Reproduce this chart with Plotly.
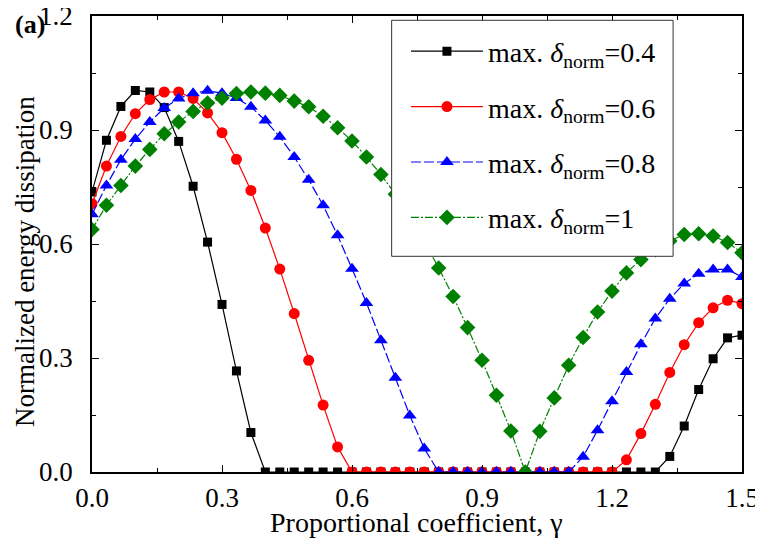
import plotly.graph_objects as go

gamma = [i / 30 for i in range(46)]

d04 = [0.737, 0.873, 0.962, 1.004, 1.000, 0.959, 0.870, 0.752, 0.605, 0.441,
       0.266, 0.104, 0, 0, 0, 0, 0, 0, 0, 0,
       0, 0, 0, 0, 0, 0, 0, 0, 0, 0,
       0, 0, 0, 0, 0, 0, 0, 0, 0, 0,
       0.041, 0.121, 0.217, 0.298, 0.353, 0.360]
d06 = [0.706, 0.805, 0.883, 0.943, 0.980, 1.000, 1.000, 0.983, 0.945, 0.893,
       0.823, 0.741, 0.642, 0.534, 0.417, 0.294, 0.176, 0.066, 0, 0,
       0, 0, 0, 0, 0, 0, 0, 0, 0, 0,
       0, 0, 0, 0, 0, 0, 0, 0.032, 0.101, 0.178,
       0.262, 0.335, 0.393, 0.432, 0.452, 0.443]
d08 = [0.678, 0.754, 0.822, 0.876, 0.921, 0.958, 0.983, 0.997, 1.003, 0.997,
       0.984, 0.961, 0.925, 0.882, 0.829, 0.769, 0.702, 0.623, 0.535, 0.445,
       0.347, 0.248, 0.149, 0.062, 0, 0, 0, 0, 0, 0,
       0, 0, 0, 0, 0.040, 0.110, 0.186, 0.263, 0.336, 0.404,
       0.456, 0.496, 0.522, 0.533, 0.533, 0.513]
d10 = [0.638, 0.702, 0.754, 0.805, 0.849, 0.890, 0.921, 0.949, 0.971, 0.984,
       0.996, 1.000, 0.997, 0.991, 0.976, 0.961, 0.936, 0.906, 0.871, 0.829,
       0.783, 0.731, 0.672, 0.607, 0.537, 0.462, 0.380, 0.294, 0.202, 0.108,
       0, 0.107, 0.195, 0.281, 0.354, 0.421, 0.476, 0.524, 0.559, 0.585,
       0.608, 0.625, 0.627, 0.621, 0.604, 0.577]

labels = ["0.4", "0.6", "0.8", "1"]
colors = ["black", "red", "blue", "green"]
symbols = ["square", "circle", "triangle-up", "diamond"]
sizes = [9, 11, 12, 12]
dashes = ["solid", "solid", "10px,3px", "8px,2px,2px,2px"]
series = [d04, d06, d08, d10]

x_title = "Proportional coefficient, γ"
y_title = "Normalized energy dissipation"
panel_label = "<b>(a)</b>"

SERIF = "Liberation Serif"

fig = go.Figure()
for k in range(4):
    fig.add_trace(go.Scatter(
        x=gamma, y=series[k], mode="lines+markers",
        name="max. <i>δ</i><sub>norm</sub>=" + labels[k],
        legendgroup="g" + str(k),
        line=dict(color=colors[k], width=1.2, dash=dashes[k]),
        marker=dict(symbol=symbols[k], size=sizes[k], color=colors[k],
                    line=dict(width=0)),
    ))

axis_common = dict(
    showline=True, linecolor="black", linewidth=1.5, mirror="ticks",
    ticks="inside", ticklen=7, tickwidth=1.2, tickcolor="black",
    showgrid=False, zeroline=False, automargin=False,
    ticklabeloverflow="allow",
    tickfont=dict(family=SERIF, size=27, color="black"),
    minor=dict(ticks="inside", ticklen=4, tickwidth=1, tickcolor="black", dtick=0.15),
)

fig.update_xaxes(range=[0, 1.5], dtick=0.3, tickformat=".1f",
                 ticklabelstandoff=1, **axis_common)
fig.update_yaxes(range=[0, 1.2], dtick=0.3, tickformat=".1f",
                 ticklabelstandoff=12, **axis_common)

fig.update_layout(
    width=755, height=537,
    margin=dict(l=84, r=21, t=8, b=73, autoexpand=False),
    paper_bgcolor="white", plot_bgcolor="white",
    legend=dict(x=0.483, y=0.977, xanchor="left", yanchor="top",
                bgcolor="rgba(0,0,0,0)", borderwidth=0,
                font=dict(family=SERIF, size=28, color="black"),
                itemwidth=72, tracegroupgap=16),
    shapes=[dict(type="rect", xref="paper", yref="paper",
                 x0=0.461, x1=0.894, y0=0.473, y1=0.9906,
                 fillcolor="white", line=dict(color="#333333", width=1),
                 layer="above")],
    annotations=[
        dict(text=panel_label, xref="paper", yref="paper",
             x=-0.122, y=0.982, xanchor="left", yanchor="middle",
             showarrow=False, font=dict(family=SERIF, size=26, color="black")),
        dict(text=x_title, xref="paper", yref="paper",
             x=0.4995, y=-0.1103, xanchor="center", yanchor="middle",
             showarrow=False, font=dict(family=SERIF, size=28, color="black")),
        dict(text=y_title, xref="paper", yref="paper", textangle=-90,
             x=-0.103, y=0.4605, xanchor="center", yanchor="middle",
             showarrow=False, font=dict(family=SERIF, size=27, color="black")),
    ],
)

fig.write_html("out.html")
